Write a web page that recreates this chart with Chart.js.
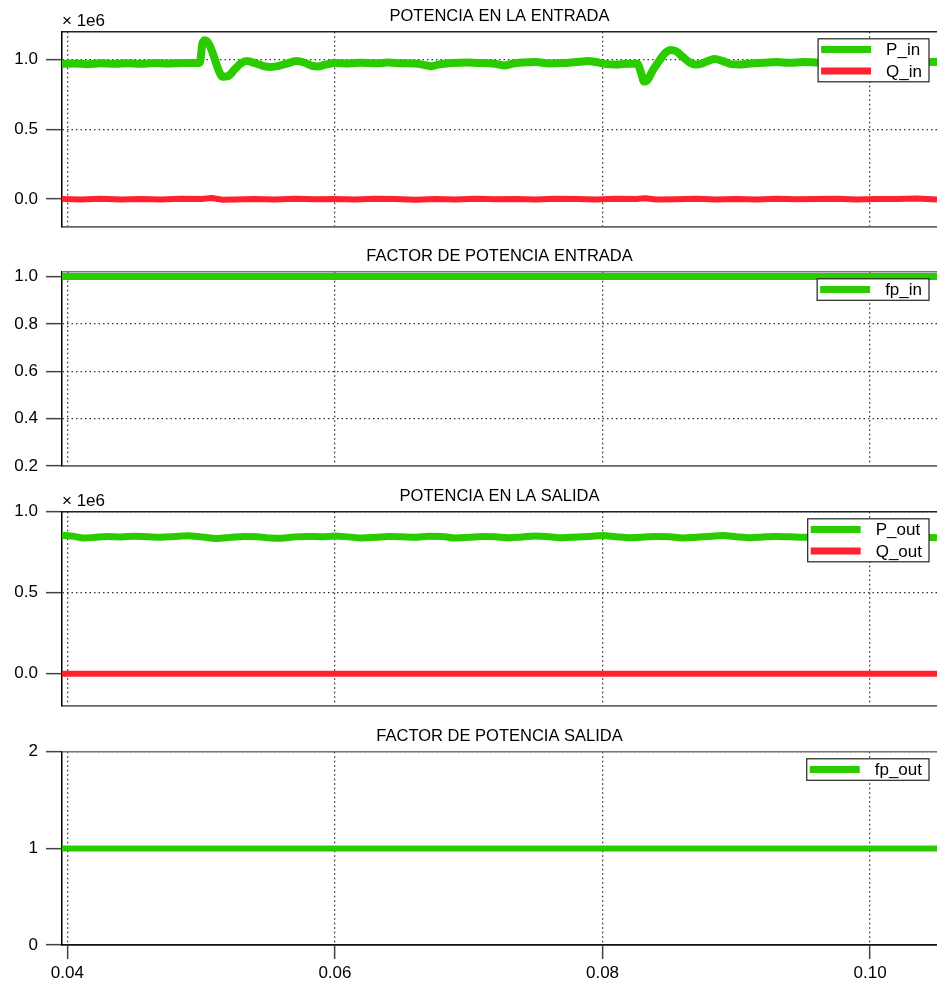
<!DOCTYPE html>
<html>
<head>
<meta charset="utf-8">
<script src="https://cdn.jsdelivr.net/npm/chart.js@4.4.1/dist/chart.umd.min.js"></script>
<style>
html, body { margin: 0; padding: 0; background: #fff; }
#wrap { position: relative; width: 937px; height: 983px; }
canvas { position: absolute; left: 0; }
</style>
</head>
<body>
<div id="wrap">
<canvas id="c1" width="937" height="240" style="top:0px"></canvas>
<canvas id="c2" width="937" height="240" style="top:240px"></canvas>
<canvas id="c3" width="937" height="240" style="top:480px"></canvas>
<canvas id="c4" width="937" height="263" style="top:720px"></canvas>
</div>
<script>
// time axis (s), power values in units of 1e6
const tPin = [
  0.0396, 0.0405, 0.0415, 0.0425, 0.0435, 0.0445, 0.0455, 0.0465, 0.0475, 0.0485,
  0.0495, 0.0499, 0.0501, 0.0503, 0.0506, 0.0510, 0.0513, 0.0516, 0.0520, 0.0525,
  0.0530, 0.0534, 0.0540, 0.0546, 0.0552, 0.0558, 0.0565, 0.0571, 0.0577, 0.0583,
  0.0587, 0.0593, 0.0600, 0.0610, 0.0620, 0.0630, 0.0640, 0.0650, 0.0660, 0.0668,
  0.0672, 0.0678, 0.0688, 0.0698, 0.0708, 0.0718, 0.0724, 0.0727, 0.0732, 0.0740,
  0.0750, 0.0760, 0.0770, 0.0780, 0.0790, 0.0795, 0.0802, 0.0810, 0.0818, 0.0826,
  0.0829, 0.0831, 0.0833, 0.0838, 0.0843, 0.0847, 0.0851, 0.0855, 0.0860, 0.0866,
  0.0870, 0.0875, 0.0880, 0.0884, 0.0890, 0.0896, 0.0902, 0.0910, 0.0920, 0.0930,
  0.0940, 0.0950, 0.0960, 0.0975, 0.0990, 0.1005, 0.1020, 0.1035, 0.1050
];
const pIn = [
  0.970, 0.973, 0.968, 0.974, 0.971, 0.975, 0.970, 0.976, 0.973, 0.977,
  0.976, 0.978, 1.120, 1.140, 1.110, 1.010, 0.925, 0.878, 0.882, 0.930,
  0.975, 0.990, 0.976, 0.956, 0.948, 0.955, 0.975, 0.990, 0.980, 0.956,
  0.952, 0.965, 0.976, 0.973, 0.978, 0.974, 0.979, 0.975, 0.973, 0.960,
  0.953, 0.966, 0.976, 0.980, 0.976, 0.973, 0.963, 0.958, 0.970, 0.980,
  0.983, 0.973, 0.976, 0.983, 0.990, 0.983, 0.970, 0.966, 0.970, 0.970,
  0.900, 0.843, 0.848, 0.930, 1.000, 1.050, 1.070, 1.060, 1.020, 0.975,
  0.965, 0.975, 0.995, 1.005, 0.990, 0.968, 0.965, 0.973, 0.978, 0.983,
  0.978, 0.983, 0.980, 0.978, 0.973, 0.973, 0.978, 0.983, 0.983
];
const tQin = [
  0.0396, 0.0410, 0.0425, 0.0440, 0.0455, 0.0470, 0.0485, 0.0500, 0.0508, 0.0516,
  0.0525, 0.0540, 0.0555, 0.0570, 0.0585, 0.0600, 0.0615, 0.0630, 0.0645, 0.0660,
  0.0675, 0.0690, 0.0705, 0.0720, 0.0735, 0.0750, 0.0765, 0.0780, 0.0795, 0.0810,
  0.0825, 0.0832, 0.0840, 0.0855, 0.0870, 0.0885, 0.0900, 0.0915, 0.0930, 0.0945,
  0.0960, 0.0975, 0.0990, 0.1005, 0.1020, 0.1035, 0.1050
];
const qIn = [
  0.000, -0.003, 0.002, -0.002, 0.001, -0.003, 0.002, 0.001, 0.008, -0.004,
  -0.002, 0.001, -0.002, 0.002, -0.001, 0.001, -0.003, 0.002, 0.000, -0.004,
  0.001, -0.002, 0.002, -0.001, 0.001, -0.003, 0.002, 0.000, -0.002, 0.002,
  0.001, 0.006, -0.003, -0.001, 0.002, -0.002, 0.001, -0.002, 0.002, -0.001,
  0.001, 0.003, -0.002, 0.001, 0.000, 0.004, -0.003
];
const tPout = [
  0.0396, 0.0405, 0.0412, 0.0420, 0.0430, 0.0440, 0.0450, 0.0460, 0.0470, 0.0480,
  0.0490, 0.0500, 0.0512, 0.0522, 0.0532, 0.0542, 0.0552, 0.0560, 0.0570, 0.0580,
  0.0590, 0.0600, 0.0610, 0.0620, 0.0630, 0.0640, 0.0650, 0.0660, 0.0670, 0.0680,
  0.0690, 0.0700, 0.0710, 0.0720, 0.0730, 0.0740, 0.0750, 0.0760, 0.0770, 0.0780,
  0.0790, 0.0800, 0.0810, 0.0820, 0.0830, 0.0840, 0.0850, 0.0860, 0.0870, 0.0880,
  0.0890, 0.0900, 0.0910, 0.0920, 0.0930, 0.0940, 0.0950, 0.0960, 0.0970, 0.0980,
  0.0990, 0.1000, 0.1010, 0.1020, 0.1035, 0.1050
];
const pOut = [
  0.855, 0.848, 0.838, 0.842, 0.847, 0.845, 0.849, 0.846, 0.843, 0.848,
  0.852, 0.845, 0.835, 0.842, 0.848, 0.846, 0.838, 0.836, 0.845, 0.848,
  0.846, 0.850, 0.845, 0.838, 0.842, 0.848, 0.846, 0.843, 0.849, 0.848,
  0.838, 0.842, 0.848, 0.846, 0.840, 0.845, 0.850, 0.846, 0.840, 0.845,
  0.848, 0.853, 0.846, 0.840, 0.843, 0.848, 0.846, 0.838, 0.843, 0.848,
  0.853, 0.846, 0.840, 0.845, 0.848, 0.846, 0.842, 0.846, 0.850, 0.846,
  0.842, 0.845, 0.848, 0.838, 0.843, 0.840
];
const tFlat = [0.0396, 0.1050];
const qOut = [0, 0];
const fpIn = [1, 1];
const fpOut = [1, 1];

const xTicks = [0.04, 0.06, 0.08, 0.10];

const GREEN = 'rgb(42,204,0)';
const RED = 'rgb(255,32,48)';
const FONT = '"Liberation Sans", Arial, sans-serif';

function pts(t, v) {
  return t.map((x, i) => ({ x: x, y: v[i] }));
}

function line(label, t, v, color, width, smooth) {
  return {
    label: label,
    data: pts(t, v),
    showLine: true,
    borderColor: color,
    backgroundColor: color,
    borderWidth: width,
    pointRadius: 0,
    borderJoinStyle: 'round',
    borderCapStyle: 'butt',
    cubicInterpolationMode: smooth ? 'monotone' : 'default',
    tension: 0
  };
}

// top frame line, "x 1e6" label and boxed legend
const frame = {
  id: 'frame',
  beforeDatasetsDraw(chart, args, opts) {
    const ctx = chart.ctx, a = chart.chartArea;
    ctx.save();
    ctx.strokeStyle = opts.topColor;
    ctx.lineWidth = 1.5;
    ctx.beginPath();
    ctx.moveTo(a.left, a.top);
    ctx.lineTo(a.right, a.top);
    ctx.stroke();
    if (opts.exp) {
      ctx.fillStyle = '#000';
      ctx.font = '17px ' + FONT;
      ctx.textBaseline = 'bottom';
      ctx.textAlign = 'left';
      ctx.fillText('\u00d7 1e6', a.left, a.top - 2);
    }
    ctx.restore();
  },
  afterDatasetsDraw(chart, args, opts) {
    const ctx = chart.ctx, a = chart.chartArea;
    const sets = chart.data.datasets;
    ctx.save();
    ctx.font = '17px ' + FONT;
    const textW = Math.max(...sets.map(d => ctx.measureText(d.label).width));
    const rowH = 21.5;
    const w = 3 + 50 + 15 + textW + 7;
    const h = sets.length * rowH;
    const right = a.right - 8, top = a.top + 7;
    const left = right - w;
    ctx.fillStyle = '#fff';
    ctx.fillRect(left, top, w, h);
    ctx.strokeStyle = '#222';
    ctx.lineWidth = 1.2;
    ctx.strokeRect(left, top, w, h);
    sets.forEach((d, i) => {
      const y = top + rowH * (i + 0.5);
      ctx.strokeStyle = d.borderColor;
      ctx.lineWidth = 7;
      ctx.beginPath();
      ctx.moveTo(left + 3, y);
      ctx.lineTo(left + 53, y);
      ctx.stroke();
      ctx.fillStyle = '#000';
      ctx.textBaseline = 'middle';
      ctx.textAlign = 'left';
      ctx.fillText(d.label, left + 68, y + 1);
    });
    ctx.restore();
  }
};

function makeChart(id, o) {
  const last = !!o.last;
  return new Chart(document.getElementById(id), {
    type: 'scatter',
    data: { datasets: o.datasets },
    options: {
      responsive: false,
      animation: false,
      events: [],
      layout: { padding: 0 },
      plugins: {
        legend: { display: false },
        tooltip: { enabled: false },
        title: {
          display: true,
          text: o.title,
          color: '#000',
          fullSize: false,
          font: { family: FONT, size: 16.5, weight: 'normal' },
          padding: { top: 7, bottom: 5 }
        },
        frame: { exp: o.exp, topColor: o.topColor || '#222' }
      },
      scales: {
        x: {
          type: 'linear',
          min: 0.0396,
          max: 0.105,
          afterFit(s) { s.height = o.xh; },
          afterBuildTicks(s) { s.ticks = xTicks.map(v => ({ value: v })); },
          border: { display: true, color: last ? '#111' : '#666', width: 1.8, dash: [1.5, 3] },
          grid: { color: '#333', lineWidth: 1.3, drawTicks: last, tickLength: 14, tickColor: '#444', tickWidth: 1.5 },
          ticks: {
            display: last,
            padding: 4,
            color: '#000',
            maxRotation: 0,
            autoSkip: false,
            font: { family: FONT, size: 17 },
            callback: v => v.toFixed(2)
          }
        },
        y: {
          min: o.min,
          max: o.max,
          afterFit(s) { s.width = 62; s.paddingTop = 0; s.paddingBottom = 0; },
          border: { display: true, color: '#000', width: 1.5, dash: [1.5, 3] },
          grid: { color: '#333', lineWidth: 1.3, tickLength: 16, tickColor: '#444', tickWidth: 1.5 },
          ticks: {
            stepSize: o.step,
            includeBounds: false,
            padding: 8,
            color: '#000',
            font: { family: FONT, size: 17 },
            callback: o.fmt
          }
        }
      }
    },
    plugins: [frame]
  });
}

const oneDec = v => v.toFixed(1);

makeChart('c1', {
  title: 'POTENCIA EN LA ENTRADA',
  exp: true,
  min: -0.2, max: 1.2, step: 0.5, fmt: oneDec, xh: 13,
  datasets: [
    line('P_in', tPin, pIn, GREEN, 8, true),
    line('Q_in', tQin, qIn, RED, 6, false)
  ]
});

makeChart('c2', {
  title: 'FACTOR DE POTENCIA ENTRADA',
  exp: false, topColor: '#777',
  min: 0.2, max: 1.02, step: 0.2, fmt: oneDec, xh: 14,
  datasets: [
    line('fp_in', tFlat, fpIn, GREEN, 7, false)
  ]
});

makeChart('c3', {
  title: 'POTENCIA EN LA SALIDA',
  exp: true,
  min: -0.2, max: 1.0, step: 0.5, fmt: oneDec, xh: 14,
  datasets: [
    line('P_out', tPout, pOut, GREEN, 7, true),
    line('Q_out', tFlat, qOut, RED, 6, false)
  ]
});

makeChart('c4', {
  title: 'FACTOR DE POTENCIA SALIDA',
  exp: false, topColor: '#777',
  min: 0, max: 2, step: 1, fmt: v => String(v), xh: 38, last: true,
  datasets: [
    line('fp_out', tFlat, fpOut, GREEN, 6, false)
  ]
});
</script>
</body>
</html>
